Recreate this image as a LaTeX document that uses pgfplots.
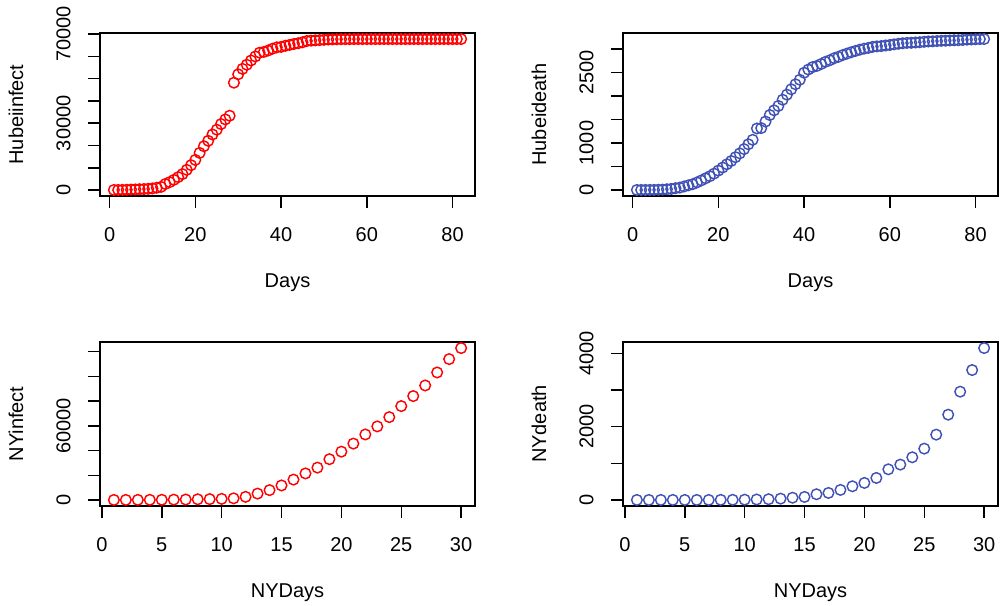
\documentclass[border=0pt]{standalone}
\usepackage{fontspec}
\setmainfont{Liberation Sans}
\usepackage{pgfplots}
\pgfplotsset{compat=1.18}
\definecolor{rred}{RGB}{255,0,0}
\definecolor{rblue}{RGB}{63,81,181}
\pgfplotsset{
  rstyle/.style={
    scale only axis, width=187.5pt,
    axis line style={line width=0.75pt},
    every tick/.style={line width=0.75pt, black},
    tick align=outside, major tick length=6pt,
    xtick pos=left, ytick pos=left,
    scaled x ticks=false, scaled y ticks=false,
    /pgf/number format/assume math mode=true,
    every axis x label/.style={at={(axis description cs:0.5,0)}, anchor=center, yshift=-43.5pt},
    every axis y label/.style={at={(axis description cs:0,0.5)}, xshift=-42pt, rotate=90, anchor=center},
    xticklabel shift=6.2pt,
    yticklabel style={rotate=90, anchor=south},
    yticklabel shift=5.2pt,
    font=\fontsize{10}{12}\selectfont,
    clip=false,
  },
  rmark/.style={only marks, mark=o, mark size=2.65pt, mark options={line width=0.72pt}, color=#1},
}
\begin{document}
\begin{tikzpicture}
\useasboundingbox (0,0) rectangle (500pt,302.5pt);
% Panel 1
\begin{axis}[rstyle, at={(50pt,204.5pt)}, anchor=south west, height=81.5pt,
  xmin=-2.24, xmax=85.24, ymin=-2669, ymax=70513,
  xtick={0,20,40,60,80},
  ytick={0,10000,20000,30000,40000,50000,60000,70000},
  yticklabels={0,,,30000,,,,70000},
  xlabel={Days}, ylabel={Hubeiinfect}]
\addplot[rmark=rred] coordinates {
(1,41)(2,45)(3,62)(4,121)(5,198)(6,270)(7,375)(8,444)(9,549)(10,729)
(11,1052)(12,1423)(13,2714)(14,3554)(15,4586)(16,5806)(17,7153)(18,9074)(19,11177)(20,13522)
(21,16678)(22,19665)(23,22112)(24,24953)(25,27100)(26,29631)(27,31728)(28,33366)(29,48206)(30,51986)
(31,54406)(32,56249)(33,58182)(34,59989)(35,61682)(36,62031)(37,62662)(38,63454)(39,64084)(40,64287)
(41,64786)(42,65187)(43,65596)(44,65914)(45,66337)(46,66907)(47,67103)(48,67217)(49,67332)(50,67466)
(51,67592)(52,67666)(53,67707)(54,67743)(55,67760)(56,67773)(57,67781)(58,67786)(59,67790)(60,67794)
(61,67798)(62,67799)(63,67800)(64,67800)(65,67800)(66,67800)(67,67800)(68,67800)(69,67800)(70,67800)
(71,67800)(72,67800)(73,67800)(74,67801)(75,67801)(76,67801)(77,67801)(78,67802)(79,67802)(80,67803)
(81,67803)(82,67803)};
\end{axis}
% Panel 2
\begin{axis}[rstyle, at={(311.5pt,204.5pt)}, anchor=south west, height=81.5pt,
  xmin=-2.24, xmax=85.24, ymin=-126.4, ymax=3340.4,
  xtick={0,20,40,60,80},
  ytick={0,500,1000,1500,2000,2500,3000},
  yticklabels={0,,1000,,,2500,},
  xlabel={Days}, ylabel={Hubeideath}]
\addplot[rmark=rblue] coordinates {
(1,2)(2,2)(3,2)(4,3)(5,3)(6,6)(7,9)(8,17)(9,24)(10,39)
(11,52)(12,76)(13,100)(14,125)(15,162)(16,204)(17,249)(18,294)(19,350)(20,414)
(21,479)(22,549)(23,618)(24,699)(25,780)(26,871)(27,974)(28,1068)(29,1310)(30,1318)
(31,1457)(32,1596)(33,1696)(34,1789)(35,1921)(36,2029)(37,2144)(38,2250)(39,2346)(40,2495)
(41,2563)(42,2615)(43,2641)(44,2682)(45,2727)(46,2761)(47,2803)(48,2834)(49,2871)(50,2902)
(51,2931)(52,2959)(53,2986)(54,3007)(55,3024)(56,3046)(57,3056)(58,3062)(59,3075)(60,3085)
(61,3099)(62,3111)(63,3122)(64,3130)(65,3132)(66,3139)(67,3144)(68,3153)(69,3160)(70,3163)
(71,3169)(72,3174)(73,3177)(74,3182)(75,3186)(76,3187)(77,3193)(78,3199)(79,3203)(80,3207)
(81,3210)(82,3212)};
\end{axis}
% Panel 3
\begin{axis}[rstyle, at={(50pt,49.5pt)}, anchor=south west, height=82pt,
  xmin=-0.16, xmax=31.16, ymin=-4819, ymax=127708,
  xtick={0,5,10,15,20,25,30},
  ytick={0,20000,40000,60000,80000,100000,120000},
  yticklabels={0,,,60000,,,},
  xlabel={NYDays}, ylabel={NYinfect}]
\addplot[rmark=rred] coordinates {
(1,89)(2,106)(3,142)(4,173)(5,217)(6,326)(7,421)(8,610)(9,732)(10,950)
(11,1374)(12,2600)(13,5200)(14,8000)(15,11800)(16,16500)(17,21500)(18,26200)(19,33000)(20,39100)
(21,45600)(22,53000)(23,59500)(24,67000)(25,75900)(26,84000)(27,92600)(28,103100)(29,113900)(30,122800)};
\end{axis}
% Panel 4
\begin{axis}[rstyle, at={(311.5pt,49.5pt)}, anchor=south west, height=82pt,
  xmin=-0.16, xmax=31.16, ymin=-165.8, ymax=4310.8,
  xtick={0,5,10,15,20,25,30},
  ytick={0,1000,2000,3000,4000},
  yticklabels={0,,2000,,4000},
  xlabel={NYDays}, ylabel={NYdeath}]
\addplot[rmark=rblue] coordinates {
(1,0)(2,0)(3,0)(4,0)(5,0)(6,0)(7,0)(8,2)(9,3)(10,7)
(11,12)(12,20)(13,35)(14,60)(15,82)(16,155)(17,191)(18,273)(19,373)(20,464)
(21,600)(22,836)(23,964)(24,1164)(25,1400)(26,1782)(27,2327)(28,2955)(29,3545)(30,4145)};
\end{axis}
\end{tikzpicture}
\end{document}
